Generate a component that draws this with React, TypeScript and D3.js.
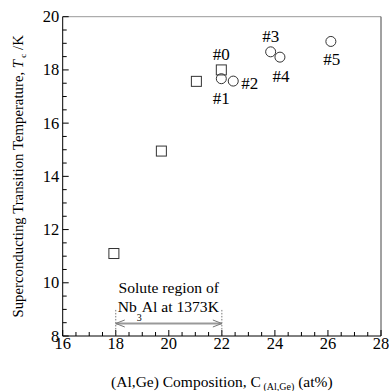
import * as d3 from "d3";

// data
const squareX = [17.93, 19.72, 21.04, 21.98];
const squareY = [11.1, 14.95, 17.57, 18.0];
const squareLabels = ["", "", "", "#0"];

const circleX = [21.98, 22.43, 23.84, 24.19, 26.11];
const circleY = [17.67, 17.58, 18.68, 18.48, 19.07];
const circleLabels = ["#1", "#2", "#3", "#4", "#5"];

const xTicks = [16, 18, 20, 22, 24, 26, 28];
const yTicks = [8, 10, 12, 14, 16, 18, 20];

const soluteRange = [18, 22];
const arrowT = 8.47;

// label placement (pixels, relative to the marker)
const labelPos: Record<string, [number, number, string]> = {
  "#0": [0, -10, "middle"],
  "#1": [0, 25, "middle"],
  "#2": [8, 8, "start"],
  "#3": [0, -10, "middle"],
  "#4": [1, 25, "middle"],
  "#5": [1, 24, "middle"],
};

const font = "'Liberation Serif', 'Times New Roman', serif";

export default function App() {
  const width = 389;
  const height = 391;
  const marginLeft = 62.7;
  const marginRight = 8;
  const marginTop = 16.7;
  const marginBottom = 55;

  const x = d3.scaleLinear([16, 28], [marginLeft, width - marginRight]);
  const y = d3.scaleLinear([8, 20], [height - marginBottom, marginTop]);

  const minorX = d3.range(16, 28.001, 0.5);
  const minorY = d3.range(8, 20.001, 0.5);

  const x0 = x(16);
  const x1 = x(28);
  const y0 = y(8);
  const y1 = y(20);

  const ay = y(arrowT);
  const ax0 = x(soluteRange[0]);
  const ax1 = x(soluteRange[1]);

  return (
    <svg
      width={width}
      height={height}
      style={{ position: "absolute", left: 0, top: 0, background: "#fff" }}
      fontFamily={font}
    >
      {/* frame */}
      <line x1={x0} x2={x1} y1={y1} y2={y1} stroke="#999" strokeWidth={1} />
      <line x1={x1} x2={x1} y1={y1} y2={y0} stroke="#444" strokeWidth={1} />
      <line x1={x0} x2={x1} y1={y0} y2={y0} stroke="#000" strokeWidth={1} />
      <line x1={x0} x2={x0} y1={y1} y2={y0} stroke="#000" strokeWidth={1} />

      {/* ticks */}
      {minorX.map((v) => (
        <line
          key={"mx" + v}
          x1={x(v)}
          x2={x(v)}
          y1={y0}
          y2={y0 - (v % 2 === 0 ? 6 : 4)}
          stroke="#000"
        />
      ))}
      {minorY.map((v) => (
        <line
          key={"my" + v}
          x1={x0}
          x2={x0 + (v % 2 === 0 ? 6 : 4)}
          y1={y(v)}
          y2={y(v)}
          stroke="#000"
        />
      ))}
      {xTicks.map((v) => (
        <text key={"xt" + v} x={x(v)} y={y0 + 12.5} textAnchor="middle" fontSize={16.5}>
          {v}
        </text>
      ))}
      {yTicks.map((v) => (
        <text key={"yt" + v} x={x0 - 3.5} y={y(v) + 5.5} textAnchor="end" fontSize={16.5}>
          {v}
        </text>
      ))}

      {/* solute region annotation */}
      {soluteRange.map((v) => (
        <line
          key={"sr" + v}
          x1={x(v)}
          x2={x(v)}
          y1={y(8.98)}
          y2={y0}
          stroke="#555"
          strokeWidth={0.8}
          strokeDasharray="1.5,1.5"
        />
      ))}
      <line x1={ax0} x2={ax1} y1={ay} y2={ay} stroke="#999" strokeWidth={2} />
      <polyline
        points={`${ax0 + 9},${ay - 3.5} ${ax0},${ay} ${ax0 + 9},${ay + 3.5}`}
        fill="none"
        stroke="#777"
        strokeWidth={1}
      />
      <polyline
        points={`${ax1 - 9},${ay - 3.5} ${ax1},${ay} ${ax1 - 9},${ay + 3.5}`}
        fill="none"
        stroke="#777"
        strokeWidth={1}
      />
      <text x={(ax0 + ax1) / 2} y={292.5} textAnchor="middle" fontSize={15.6}>
        Solute region of
      </text>
      <text x={ax0 + 2} y={312} fontSize={15.6}>
        Nb
        <tspan fontSize={10} dy={9}>3</tspan>
        <tspan dy={-9}>Al at 1373K</tspan>
      </text>

      {/* markers */}
      {squareX.map((v, i) => (
        <rect
          key={"sq" + i}
          x={x(v) - 5}
          y={y(squareY[i]) - 5}
          width={10}
          height={10}
          fill="#fff"
          stroke="#333"
          strokeWidth={1}
        />
      ))}
      {circleX.map((v, i) => (
        <circle
          key={"ci" + i}
          cx={x(v)}
          cy={y(circleY[i])}
          r={5}
          fill="none"
          stroke="#333"
          strokeWidth={1}
        />
      ))}

      {/* point labels */}
      {squareX.map((v, i) =>
        squareLabels[i] ? (
          <text
            key={"sl" + i}
            x={x(v) + labelPos[squareLabels[i]][0]}
            y={y(squareY[i]) + labelPos[squareLabels[i]][1]}
            textAnchor={labelPos[squareLabels[i]][2]}
            fontSize={17}
          >
            {squareLabels[i]}
          </text>
        ) : null
      )}
      {circleX.map((v, i) => (
        <text
          key={"cl" + i}
          x={x(v) + labelPos[circleLabels[i]][0]}
          y={y(circleY[i]) + labelPos[circleLabels[i]][1]}
          textAnchor={labelPos[circleLabels[i]][2]}
          fontSize={17}
        >
          {circleLabels[i]}
        </text>
      ))}

      {/* axis titles */}
      <text x={(x0 + x1) / 2} y={387} textAnchor="middle" fontSize={15.5}>
        (Al,Ge) Composition, C
        <tspan fontSize={10} dy={3}> (Al,Ge)</tspan>
        <tspan dy={-3}> (at%)</tspan>
      </text>
      <text
        transform={`translate(23,${(y0 + y1) / 2}) rotate(-90)`}
        textAnchor="middle"
        fontSize={14.8}
      >
        Superconducting Transition Temperature,{" "}
        <tspan fontStyle="italic">T</tspan>
        <tspan fontSize={9} dy={3}> c</tspan>
        <tspan dy={-3}> /K</tspan>
      </text>
    </svg>
  );
}
